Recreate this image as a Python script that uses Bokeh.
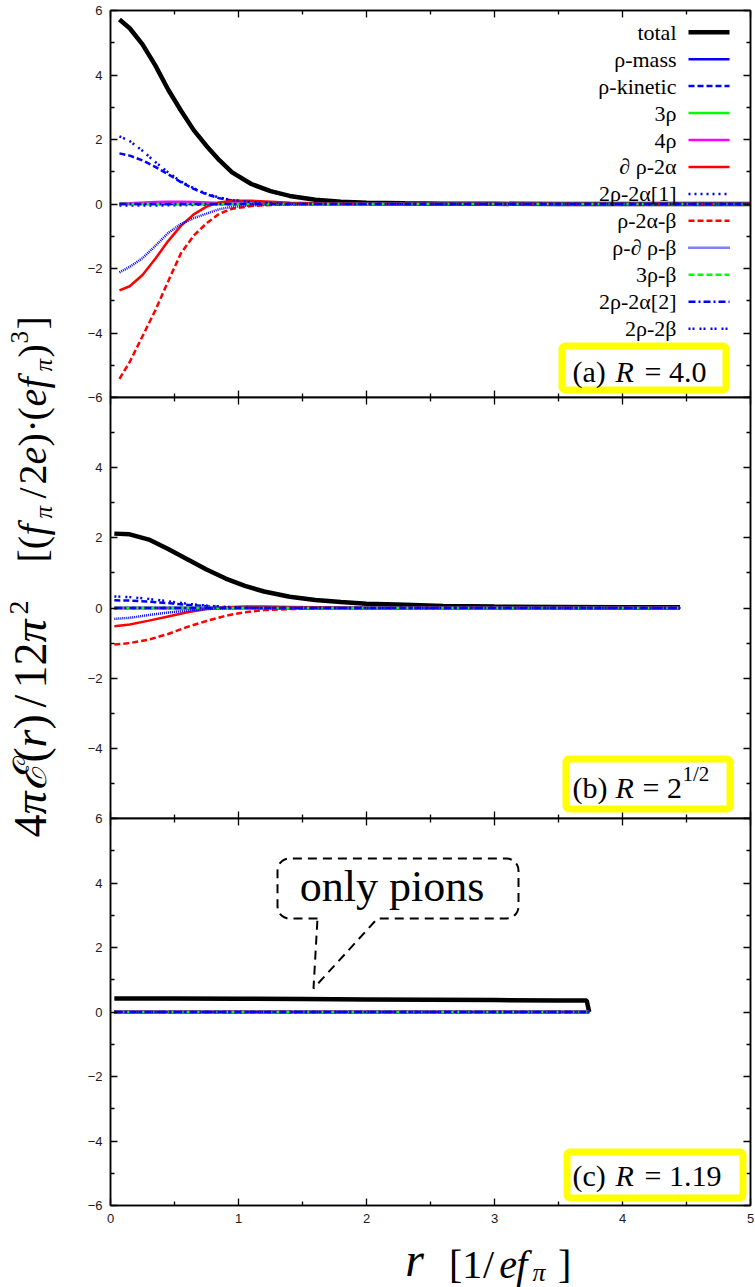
import numpy as np
from bokeh.plotting import figure
from bokeh.layouts import row, column
from bokeh.models import (Range1d, FixedTicker, LinearAxis, Label, BoxAnnotation,
                          ColumnDataSource, CustomJSTickFormatter)
from bokeh.core.properties import value
from bokeh.embed import file_html
from bokeh.resources import INLINE

# ---------------------------------------------------------------- data
SERIES = ["total", "ρ-mass", "ρ-kinetic", "3ρ", "4ρ", "∂ ρ-2α", "2ρ-2α[1]",
          "ρ-2α-β", "ρ-∂ ρ-β", "3ρ-β", "2ρ-2α[2]", "2ρ-2β"]

# (a) R = 4.0
r_a = [0.07, 0.15, 0.25, 0.35, 0.45, 0.55, 0.65, 0.75, 0.85, 0.95, 1.1, 1.25,
       1.4, 1.6, 1.8, 2.0, 2.3, 2.6, 3.0, 3.5, 4.0, 4.5, 5.0]
total_a = [5.72, 5.45, 4.95, 4.30, 3.55, 2.90, 2.29, 1.80, 1.36, 0.98, 0.62, 0.40,
           0.25, 0.13, 0.07, 0.04, 0.02, 0.01, 0.005, 0.0, 0.0, 0.0, 0.0]
kinetic_a = [1.57, 1.50, 1.35, 1.15, 0.92, 0.68, 0.47, 0.30, 0.18, 0.11, 0.05, 0.02,
             0.01, 0.0, 0.0, 0.0, 0.0, 0.0, 0.0, 0.0, 0.0, 0.0, 0.0]
three_rho_a = [0.02, 0.02, 0.03, 0.04, 0.05, 0.05, 0.04, 0.03, 0.02, 0.01, 0.01, 0.0,
               0.0, 0.0, 0.0, 0.0, 0.0, 0.0, 0.0, 0.0, 0.0, 0.0, 0.0]
four_rho_a = [0.01, 0.02, 0.04, 0.06, 0.07, 0.07, 0.06, 0.05, 0.03, 0.02, 0.01, 0.0,
              0.0, 0.0, 0.0, 0.0, 0.0, 0.0, 0.0, 0.0, 0.0, 0.0, 0.0]
drho_2a_a = [-2.68, -2.55, -2.20, -1.70, -1.15, -0.68, -0.32, -0.08, 0.05, 0.10, 0.10, 0.07,
             0.04, 0.02, 0.01, 0.0, 0.0, 0.0, 0.0, 0.0, 0.0, 0.0, 0.0]
two_rho_2a1_a = [-0.05, -0.05, -0.05, -0.05, -0.04, -0.04, -0.03, -0.02, -0.01, -0.01, 0.0, 0.0,
                 0.0, 0.0, 0.0, 0.0, 0.0, 0.0, 0.0, 0.0, 0.0, 0.0, 0.0]
rho_2a_b_a = [-5.42, -4.90, -4.10, -3.30, -2.40, -1.53, -0.98, -0.60, -0.30, -0.15, -0.06, -0.03,
              -0.01, 0.0, 0.0, 0.0, 0.0, 0.0, 0.0, 0.0, 0.0, 0.0, 0.0]
rho_drho_b_a = [-2.12, -1.95, -1.68, -1.30, -0.90, -0.62, -0.44, -0.30, -0.16, -0.09, -0.04, -0.02,
                -0.01, 0.0, 0.0, 0.0, 0.0, 0.0, 0.0, 0.0, 0.0, 0.0, 0.0]
two_rho_2b_a = [2.10, 1.95, 1.65, 1.30, 0.98, 0.70, 0.49, 0.32, 0.20, 0.12, 0.06, 0.03,
                0.01, 0.0, 0.0, 0.0, 0.0, 0.0, 0.0, 0.0, 0.0, 0.0, 0.0]
r_a_flat = [0.07, 5.0]
flat_a = [0.0, 0.0]

# (b) R = 2^(1/2)
r_b = [0.03, 0.15, 0.3, 0.45, 0.6, 0.75, 0.9, 1.05, 1.2, 1.4, 1.6, 1.8, 2.0,
       2.3, 2.6, 3.0, 3.5, 4.0, 4.45]
total_b = [2.12, 2.10, 1.95, 1.68, 1.39, 1.10, 0.84, 0.63, 0.47, 0.32, 0.23, 0.17, 0.12,
           0.09, 0.06, 0.04, 0.03, 0.02, 0.02]
kinetic_b = [0.22, 0.21, 0.18, 0.14, 0.09, 0.05, 0.02, 0.01, 0.0, 0.0, 0.0, 0.0, 0.0,
             0.0, 0.0, 0.0, 0.0, 0.0, 0.0]
drho_2a_b = [-0.52, -0.47, -0.36, -0.24, -0.12, -0.03, 0.02, 0.04, 0.04, 0.03, 0.02, 0.01, 0.0,
             0.0, 0.0, 0.0, 0.0, 0.0, 0.0]
rho_2a_b_b = [-1.04, -1.00, -0.90, -0.74, -0.54, -0.37, -0.22, -0.12, -0.06, -0.03, -0.01, 0.0, 0.0,
              0.0, 0.0, 0.0, 0.0, 0.0, 0.0]
rho_drho_b_b = [-0.31, -0.28, -0.20, -0.13, -0.07, -0.03, -0.01, 0.0, 0.0, 0.0, 0.0, 0.0, 0.0,
                0.0, 0.0, 0.0, 0.0, 0.0, 0.0]
two_rho_2b_b = [0.33, 0.31, 0.26, 0.19, 0.12, 0.07, 0.03, 0.01, 0.0, 0.0, 0.0, 0.0, 0.0,
                0.0, 0.0, 0.0, 0.0, 0.0, 0.0]
r_b_flat = [0.03, 4.45]
flat_b = [0.0, 0.0]

# (c) R = 1.19
r_c = [0.03, 0.5, 1.0, 1.5, 2.0, 2.5, 3.0, 3.5, 3.72, 3.74]
total_c = [0.42, 0.42, 0.41, 0.40, 0.39, 0.38, 0.37, 0.36, 0.36, 0.0]
r_c_flat = [0.03, 3.74]
flat_c = [0.0, 0.0]

X_TICKS = [0, 1, 2, 3, 4, 5]
X_MINOR = [0.5, 1.5, 2.5, 3.5, 4.5]
Y_TICKS = [-6, -4, -2, 0, 2, 4, 6]
Y_MINOR = [-5, -3, -1, 1, 3, 5]

# colour, dash, width for each entry of SERIES
STYLES = [
    ("black", "solid", 4.5),
    ("#0000ff", "solid", 2.5),
    ("#0000ff", "6 3", 2.5),
    ("#00ff00", "solid", 2.5),
    ("#ff00ff", "solid", 2.5),
    ("#ff0000", "solid", 2.5),
    ("#0000ff", "2 4", 2.5),
    ("#ff0000", "6 3", 2.5),
    ("#0000ff", "1 1", 2.5),
    ("#00ff00", "6 3", 2.5),
    ("#0000ff", "7 3 2 3", 2.5),
    ("#0000ff", "2 2 2 5", 2.5),
]

SERIF = "Liberation Serif"
SANS = "Liberation Sans"
H = 1287
FRAME_W = 640
PX_PER_X = FRAME_W / 5.0
MID = 0.32   # distance from baseline to text middle, in em


def style_axis(ax, labels):
    ax.axis_line_width = 1.5
    ax.axis_line_color = "black"
    ax.major_tick_in = 7
    ax.major_tick_out = 0
    ax.minor_tick_in = 4
    ax.minor_tick_out = 0
    ax.major_tick_line_width = 1.3
    ax.minor_tick_line_width = 1.3
    ax.major_tick_line_color = "black"
    ax.minor_tick_line_color = "black"
    if labels:
        ax.major_label_text_font = SANS
        ax.major_label_text_font_size = "13px"
        ax.major_label_text_color = "#1a1a1a"
        ax.major_label_standoff = 8
    else:
        ax.formatter = CustomJSTickFormatter(code="return ''")
        ax.major_label_text_font_size = "0px"
        ax.major_label_standoff = 0


def make_panel(series, frame_h, top, bottom, y_overrides, x_labels):
    p = figure(frame_width=FRAME_W, frame_height=frame_h,
               x_range=Range1d(0, 5), y_range=Range1d(-6, 6),
               min_border_left=30, min_border_right=5,
               min_border_top=top, min_border_bottom=bottom,
               x_axis_location=None, y_axis_location=None,
               toolbar_location=None, output_backend="svg")
    p.grid.visible = False
    p.outline_line_color = "black"
    p.outline_line_width = 1.5
    p.border_fill_alpha = 0
    p.background_fill_color = "white"

    yt = FixedTicker(ticks=Y_TICKS, minor_ticks=Y_MINOR)
    xt = FixedTicker(ticks=X_TICKS, minor_ticks=X_MINOR)

    left = LinearAxis(ticker=yt)
    style_axis(left, True)
    left.major_label_overrides = y_overrides
    p.add_layout(left, "left")
    right = LinearAxis(ticker=yt)
    style_axis(right, False)
    p.add_layout(right, "right")
    below = LinearAxis(ticker=xt)
    style_axis(below, x_labels)
    p.add_layout(below, "below")
    above = LinearAxis(ticker=xt)
    style_axis(above, False)
    p.add_layout(above, "above")

    for (xs, ys), (col, dash, w) in zip(series, STYLES):
        p.line(xs, ys, line_color=col, line_dash=dash, line_width=w)
    return p


def frame_y(page_y, frame_top, px_per_y):
    return 6.0 - (page_y - frame_top) / px_per_y


def frame_x(page_x):
    return (page_x - 110.0) / PX_PER_X


def tag_box(p, x0, x1, y0, y1, frame_top, px_per_y):
    p.add_layout(BoxAnnotation(left=frame_x(x0), right=frame_x(x1),
                               top=frame_y(y0, frame_top, px_per_y),
                               bottom=frame_y(y1, frame_top, px_per_y),
                               fill_color="white", fill_alpha=1.0,
                               line_color="#ffff00", line_alpha=1.0, line_width=7,
                               border_radius=3))


def tag_text(p, pieces, frame_top, px_per_y):
    # pieces give the page baseline; labels are anchored on their middle
    for txt, px, base, size in pieces:
        s = float(size[:-2])
        p.add_layout(Label(x=frame_x(px), y=frame_y(base - MID * s, frame_top, px_per_y),
                           text=txt, text_font=SERIF, text_font_size=size,
                           text_font_style="italic" if txt == "R" else "normal",
                           text_color="black", text_align="left",
                           text_baseline="middle"))


# ---------------------------------------------------------------- panel (a)
series_a = [(r_a, total_a), (r_a_flat, flat_a), (r_a, kinetic_a), (r_a, three_rho_a),
            (r_a, four_rho_a), (r_a, drho_2a_a), (r_a, two_rho_2a1_a), (r_a, rho_2a_b_a),
            (r_a, rho_drho_b_a), (r_a_flat, flat_a), (r_a_flat, flat_a), (r_a, two_rho_2b_a)]
pa = make_panel(series_a, 387, 10, 12, {}, False)
PYA = 387 / 12.0

# legend: label on the left, line sample on the right
leg_y = [frame_y(31.7 + 26.95 * i, 10, PYA) for i in range(len(SERIES))]
pa.text(x=[frame_x(676)] * len(SERIES), y=leg_y, text=SERIES,
        text_align="right", text_baseline="middle",
        text_font=value(SERIF), text_font_size="22px", text_color="black")
for yy, (col, dash, w) in zip(leg_y, STYLES):
    pa.segment(x0=[frame_x(688)], y0=[yy], x1=[frame_x(729)], y1=[yy],
               line_color=col, line_dash=dash, line_width=w)

tag_box(pa, 561.5, 725.5, 345.5, 389.5, 10, PYA)
tag_text(pa, [("(a)", 572, 381, "30px"), ("R", 615, 381, "30px"),
              ("= 4.0", 644, 381, "30px")], 10, PYA)

# ---------------------------------------------------------------- panel (b)
series_b = [(r_b, total_b), (r_b_flat, flat_b), (r_b, kinetic_b), (r_b_flat, flat_b),
            (r_b_flat, flat_b), (r_b, drho_2a_b), (r_b_flat, flat_b), (r_b, rho_2a_b_b),
            (r_b, rho_drho_b_b), (r_b_flat, flat_b), (r_b_flat, flat_b), (r_b, two_rho_2b_b)]
pb = make_panel(series_b, 421, 12, 12, {6: "", -6: ""}, False)
pb.styles = {"margin-top": "-24px"}
PYB = 421 / 12.0

tag_box(pb, 565.5, 729.5, 758.5, 808.5, 397, PYB)
tag_text(pb, [("(b)", 572, 797, "30px"), ("R", 615, 797, "30px"),
              ("= 2", 642, 797, "30px"), ("1/2", 682, 780, "21px")], 397, PYB)

# ---------------------------------------------------------------- panel (c)
series_c = [(r_c, total_c)] + [(r_c_flat, flat_c)] * 11
pc = make_panel(series_c, 387, 12, 26, {}, True)
pc.styles = {"margin-top": "-24px"}
PYC = 387 / 12.0

tag_box(pc, 566.5, 742.5, 1151.5, 1197.5, 818, PYC)
tag_text(pc, [("(c)", 572, 1185, "30px"), ("R", 615, 1185, "30px"),
              ("= 1.19", 644, 1185, "30px")], 818, PYC)

# "only pions" call-out: rounded dashed box with a wedge pointing at the curve
bx0, bx1 = frame_x(277), frame_x(518)
by0, by1 = frame_y(918, 818, PYC), frame_y(858, 818, PYC)
gx0, gx1 = frame_x(317), frame_x(377)
tipx, tipy = frame_x(313), frame_y(988, 818, PYC)
rx, ry = 12 / PX_PER_X, 12 / PYC


def corner(cx, cy, a0, a1):
    t = np.linspace(a0, a1, 8)
    return list(cx + rx * np.cos(t)), list(cy + ry * np.sin(t))


cx_list, cy_list = [gx0], [by0]
for cx, cy, a0, a1 in [(bx0 + rx, by0 + ry, 1.5 * np.pi, np.pi),
                       (bx0 + rx, by1 - ry, np.pi, 0.5 * np.pi),
                       (bx1 - rx, by1 - ry, 0.5 * np.pi, 0.0),
                       (bx1 - rx, by0 + ry, 0.0, -0.5 * np.pi)]:
    xs, ys = corner(cx, cy, a0, a1)
    cx_list += xs
    cy_list += ys
cx_list += [gx1, tipx, gx0]
cy_list += [by0, tipy, by0]
pc.line(cx_list, cy_list, line_color="black", line_width=2, line_dash="9 6")
pc.add_layout(Label(x=frame_x(397), y=frame_y(900 - MID * 44, 818, PYC), text="only  pions",
                    text_font=SERIF, text_font_size="44px", text_align="center",
                    text_baseline="middle", text_color="black"))

# ---------------------------------------------------------------- x-axis title strip
STRIP_TOP = 818 + 387 + 26
XH = H - STRIP_TOP
xlab = figure(width=675, height=XH, x_range=Range1d(80, 755), y_range=Range1d(0, XH),
              min_border=0, toolbar_location=None, output_backend="svg")
xlab.axis.visible = False
xlab.grid.visible = False
xlab.outline_line_color = None
xlab.border_fill_alpha = 0
xlab.background_fill_alpha = 0
# (text, page x, page baseline, size px, style)
xpieces = [
    ("r", 391, 1274, 48, "italic"),
    ("[", 437, 1277, 40, "normal"),
    ("1", 451, 1277, 40, "normal"),
    ("/", 473, 1277, 40, "normal"),
    ("e", 490, 1277, 40, "italic"),
    ("f", 508, 1277, 40, "italic"),
    ("π", 525, 1280, 26, "italic"),
    ("]", 552, 1277, 40, "normal"),
]
xsrc = ColumnDataSource(dict(
    x=[q[1] for q in xpieces], y=[H - (q[2] - MID * q[3]) for q in xpieces],
    text=[q[0] for q in xpieces], size=["%dpx" % q[3] for q in xpieces],
    style=[q[4] for q in xpieces]))
xlab.text(x="x", y="y", text="text", source=xsrc,
          text_font=value(SERIF), text_font_size="size", text_font_style="style",
          text_align="left", text_baseline="middle", text_color="black")

# ---------------------------------------------------------------- y-axis title strip
ylab = figure(width=80, height=H, x_range=Range1d(0, 80), y_range=Range1d(0, H),
              min_border=0, toolbar_location=None, output_backend="svg")
ylab.axis.visible = False
ylab.grid.visible = False
ylab.outline_line_color = None
ylab.border_fill_alpha = 0
ylab.background_fill_alpha = 0

# (text, page y where it starts, baseline x, size px, style); read bottom to top
ypieces = [
    ("4", 837, 45, 46, "normal"),
    ("π", 814, 45, 46, "italic"),
    ("ℰ", 790, 45, 46, "italic"),
    ("(", 762, 45, 46, "normal"),
    ("r", 747, 45, 46, "italic"),
    (")", 729, 45, 46, "normal"),
    ("/", 707, 45, 46, "normal"),
    ("12", 688, 45, 46, "normal"),
    ("π", 642, 45, 46, "italic"),
    ("2", 614, 27, 28, "normal"),
    ("[(", 562, 45, 40, "normal"),
    ("f", 535, 45, 40, "italic"),
    ("π", 518, 51, 25, "italic"),
    ("/", 498, 45, 40, "normal"),
    ("2", 484, 45, 40, "normal"),
    ("e", 464, 45, 40, "italic"),
    (")", 446, 45, 40, "normal"),
    ("·", 432, 45, 40, "normal"),
    ("(", 420, 45, 40, "normal"),
    ("e", 406, 45, 40, "italic"),
    ("f", 388, 45, 40, "italic"),
    ("π", 371, 51, 25, "italic"),
    (")", 357, 45, 40, "normal"),
    ("3", 343, 27, 25, "normal"),
    ("]", 329, 45, 40, "normal"),
]
# rotated a quarter turn: the glyph middle sits left of the baseline
ysrc = ColumnDataSource(dict(
    x=[q[2] - MID * q[3] for q in ypieces], y=[H - q[1] for q in ypieces],
    text=[q[0] for q in ypieces], size=["%dpx" % q[3] for q in ypieces],
    style=[q[4] for q in ypieces]))
ylab.text(x="x", y="y", text="text", source=ysrc, angle=np.pi / 2,
          text_font=value(SERIF), text_font_size="size", text_font_style="style",
          text_align="left", text_baseline="middle", text_color="black")

layout = row(ylab, column(pa, pb, pc, xlab))
open("out.html", "w").write(file_html(layout, INLINE))
